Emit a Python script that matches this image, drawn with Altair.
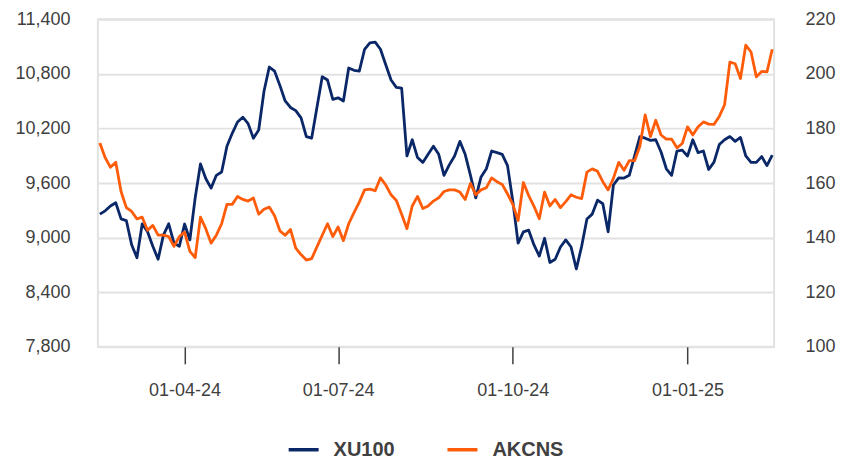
import altair as alt
import pandas as pd

# Each sample = 2 trading sessions
sessions = list(range(0, 256, 2))

xu100 = [
    9259, 9295, 9348, 9384, 9206, 9188, 8922, 8780, 9152, 9064,
    8905, 8762, 9028, 9152, 8940, 8905, 9150, 8975, 9437, 9810,
    9650, 9544, 9685, 9721, 10005, 10147, 10271, 10324, 10253, 10093,
    10183, 10609, 10875, 10830, 10673, 10502, 10431, 10396, 10317, 10111,
    10093, 10431, 10768, 10732, 10519, 10537, 10502, 10864, 10839, 10830,
    11070, 11141, 11148, 11070, 10900, 10732, 10651, 10644, 9898, 10076,
    9880, 9827, 9916, 10005, 9916, 9685, 9800, 9898, 10058, 9916,
    9685, 9437, 9667, 9757, 9952, 9934, 9916, 9792, 9401, 8940,
    9064, 9082, 8920, 8798, 8993, 8727, 8762, 8897, 8975, 8897,
    8656, 8905, 9206, 9259, 9412, 9373, 9064, 9579, 9657, 9655,
    9685, 9898, 10111, 10093, 10069, 10076, 9941, 9757, 9685, 9952,
    9962, 9898, 10076, 9934, 9952, 9749, 9830, 10023, 10076, 10111,
    10058, 10101, 9898, 9827, 9827, 9891, 9792, 9906,
]

akcns = [
    174.7, 169.3, 165.8, 167.6, 156.9, 151.0, 149.6, 146.9, 147.5, 142.7,
    144.5, 140.9, 140.9, 140.4, 136.8, 140.4, 142.0, 135.0, 132.7, 147.5,
    143.3, 138.0, 140.9, 145.1, 152.2, 152.2, 155.1, 154.0, 153.4, 154.5,
    148.6, 150.4, 151.2, 148.0, 142.5, 140.9, 143.0, 136.2, 133.8, 131.8,
    132.3, 136.6, 140.9, 145.1, 140.4, 143.9, 138.9, 145.1, 149.2, 153.0,
    157.5, 157.8, 157.2, 161.9, 159.3, 155.7, 153.6, 148.6, 143.3, 151.6,
    155.1, 150.7, 151.6, 153.4, 154.6, 156.9, 157.5, 157.5, 156.7, 154.0,
    159.9, 155.7, 157.5, 158.3, 161.9, 160.5, 159.5, 156.0, 152.2, 146.3,
    160.2, 155.4, 151.5, 146.9, 156.7, 151.6, 154.0, 151.0, 153.2, 155.7,
    154.8, 154.3, 164.0, 165.2, 164.3, 160.5, 157.5, 161.7, 167.6, 164.7,
    168.2, 168.2, 173.5, 185.0, 177.0, 183.0, 177.6, 176.1, 176.1, 172.9,
    174.5, 180.6, 177.6, 180.6, 182.4, 181.6, 181.5, 184.4, 188.7, 204.3,
    203.7, 198.3, 210.5, 208.0, 198.9, 200.9, 200.7, 209.0,
]

tick_values = [32, 90, 156, 222]
tick_labels = ["01-04-24", "01-07-24", "01-10-24", "01-01-25"]
left_ticks = [7800, 8400, 9000, 9600, 10200, 10800, 11400]
right_ticks = [100, 120, 140, 160, 180, 200, 220]
series_names = ["XU100", "AKCNS"]
series_colors = ["#0a2768", "#ff5c0a"]

FONT = "Liberation Sans"
TXT = "#404040"
GRID = "#e2e2e2"

df = pd.DataFrame({"t": sessions, "XU100": xu100, "AKCNS": akcns})
long = df.melt("t", var_name="series", value_name="value")

label_expr = " : ".join(
    f"datum.value == {v} ? '{l}'" for v, l in zip(tick_values, tick_labels)
) + " : ''"

x_enc = alt.X(
    "t:Q",
    scale=alt.Scale(domain=[-0.75, 254.7], nice=False, zero=False),
    axis=alt.Axis(
        values=tick_values, labelExpr=label_expr, title=None, grid=False,
        domain=False, ticks=True, tickSize=17, tickColor=TXT, tickWidth=1.5,
        labelPadding=18, labelFontSize=18, labelColor=TXT, labelFont=FONT,
    ),
)

color_enc = alt.Color(
    "series:N",
    scale=alt.Scale(domain=series_names, range=series_colors),
    sort=series_names,
    legend=alt.Legend(
        title=None, orient="none", direction="horizontal",
        legendX=189, legendY=414,
        symbolType="stroke", symbolSize=900, symbolStrokeWidth=3.5,
        labelFont=FONT, labelFontSize=20, labelFontWeight="bold",
        labelColor=TXT, labelOffset=13, columnPadding=45, padding=0,
    ),
)

left = alt.Chart(long).transform_filter(
    alt.datum.series == "XU100"
).mark_line(strokeWidth=2.8, strokeJoin="round").encode(
    x=x_enc,
    y=alt.Y(
        "value:Q",
        scale=alt.Scale(domain=[7800, 11400], nice=False, zero=False),
        axis=alt.Axis(
            orient="left", values=left_ticks, format=",.0f", title=None,
            grid=True, gridColor=GRID, gridWidth=2, domain=False, ticks=False,
            labelPadding=28, labelFontSize=18, labelColor=TXT, labelFont=FONT,
        ),
    ),
    color=color_enc,
)

right = alt.Chart(long).transform_filter(
    alt.datum.series == "AKCNS"
).mark_line(strokeWidth=2.8, strokeJoin="round").encode(
    x=x_enc,
    y=alt.Y(
        "value:Q",
        scale=alt.Scale(domain=[100, 220], nice=False, zero=False),
        axis=alt.Axis(
            orient="right", values=right_ticks, format=".0f", title=None,
            grid=False, domain=False, ticks=False,
            labelPadding=31, labelFontSize=18, labelColor=TXT, labelFont=FONT,
        ),
    ),
    color=color_enc,
)

chart = alt.layer(left, right).resolve_scale(y="independent").properties(
    width=677, height=328,
    autosize=alt.AutoSizeParams(type="none"),
    padding={"left": 90, "top": 11, "right": 70, "bottom": 113},
    background="white",
).configure_view(stroke=GRID, strokeWidth=2)

chart.save("out.html", embed_options={"renderer": "svg", "actions": False})
